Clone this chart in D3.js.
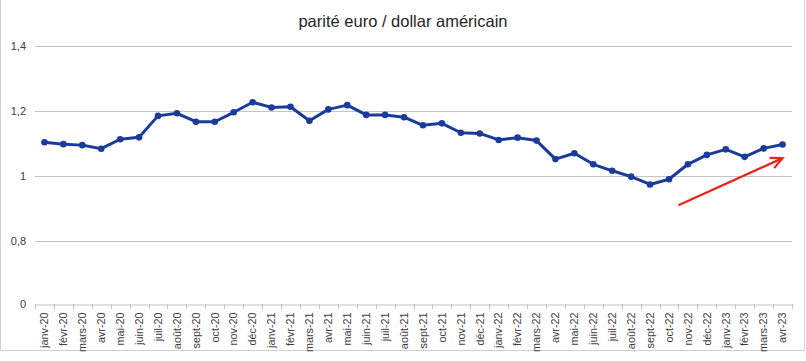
<!DOCTYPE html>
<html>
<head>
<meta charset="utf-8">
<script src="https://cdn.jsdelivr.net/npm/d3@7"></script>
<style>
  body { margin: 0; background: #fff; }
  svg { display: block; font-family: "Liberation Sans", Arial, sans-serif; }
</style>
</head>
<body>
<svg id="chart" width="806" height="361"></svg>
<script>
const title = "parité euro / dollar américain";
const months = ["janv-20","févr-20","mars-20","avr-20","mai-20","juin-20","juil-20","août-20","sept-20","oct-20","nov-20","déc-20",
  "janv-21","févr-21","mars-21","avr-21","mai-21","juin-21","juil-21","août-21","sept-21","oct-21","nov-21","déc-21",
  "janv-22","févr-22","mars-22","avr-22","mai-22","juin-22","juil-22","août-22","sept-22","oct-22","nov-22","déc-22",
  "janv-23","févr-23","mars-23","avr-23"];
const parity = [1.104,1.098,1.095,1.084,1.113,1.119,1.185,1.193,1.167,1.167,1.196,1.227,
  1.211,1.213,1.170,1.205,1.218,1.188,1.188,1.181,1.156,1.162,1.133,1.131,
  1.111,1.118,1.109,1.052,1.070,1.036,1.016,0.998,0.974,0.990,1.036,1.065,
  1.082,1.059,1.085,1.097];
const yTicks = [0, 0.8, 1, 1.2, 1.4];
const yTickLabels = ["0", "0,8", "1", "1,2", "1,4"];
// trend arrow annotation: [month index, value]
const arrowStart = [33.5, 0.91];
const arrowEnd = [39, 1.055];

const svg = d3.select("#chart");
const plot = { left: 35, right: 792, top: 46, bottom: 304 };

// frame
svg.append("path")
  .attr("d", `M0.5,-1 V350.5 H804.5 V-1`)
  .attr("fill", "none").attr("stroke", "#d0d0d0").attr("stroke-width", 1);

const x = d3.scaleBand().domain(months).range([plot.left, plot.right]).paddingInner(0).paddingOuter(0);
const xc = i => x(months[0]) + x.step() * (i + 0.5);
// broken value axis: 0 shown one step below 0,8
const y = d3.scaleLinear().domain([0, 0.8, 1.4]).range([plot.bottom, 241, plot.top]);

// gridlines
svg.append("g").selectAll("line").data(yTicks.filter(d => d > 0)).join("line")
  .attr("x1", plot.left).attr("x2", plot.right)
  .attr("y1", d => Math.round(y(d)) + 0.5).attr("y2", d => Math.round(y(d)) + 0.5)
  .attr("stroke", "#c4c4c4").attr("stroke-width", 1);

// y labels
svg.append("g").selectAll("text").data(yTicks).join("text")
  .attr("x", 26).attr("y", d => y(d)).attr("dy", "0.35em")
  .attr("text-anchor", "end").attr("font-size", 11).attr("fill", "#404040")
  .text((d, i) => yTickLabels[i]);

// x axis
const xAxis = d3.axisBottom(x).tickSize(0).tickSizeOuter(0);
const gx = svg.append("g").attr("transform", `translate(0,${plot.bottom + 0.5})`).call(xAxis);
gx.select(".domain").attr("stroke", "#c4c4c4");
gx.selectAll(".tick text")
  .attr("font-family", "'Liberation Sans', Arial, sans-serif")
  .attr("font-size", 10.8).attr("fill", "#404040")
  .attr("transform", "rotate(-90)")
  .attr("text-anchor", "end")
  .attr("x", -8).attr("y", 0).attr("dy", "0.35em");
// boundary ticks
svg.append("g").selectAll("line").data(d3.range(months.length + 1)).join("line")
  .attr("x1", i => Math.round(plot.left + i * x.step()) + 0.5)
  .attr("x2", i => Math.round(plot.left + i * x.step()) + 0.5)
  .attr("y1", plot.bottom).attr("y2", plot.bottom + 5)
  .attr("stroke", "#c4c4c4");

// title
svg.append("text").attr("x", 403).attr("y", 21).attr("dy", "0.35em")
  .attr("text-anchor", "middle").attr("font-size", 16.5).attr("fill", "#262626")
  .text(title);

// line
const color = "#1a3b9c";
svg.append("path").datum(parity)
  .attr("fill", "none").attr("stroke", color).attr("stroke-width", 3).attr("stroke-linejoin", "round")
  .attr("d", d3.line().x((d, i) => xc(i)).y(d => y(d)));
svg.append("g").selectAll("circle").data(parity).join("circle")
  .attr("cx", (d, i) => xc(i)).attr("cy", d => y(d)).attr("r", 3.3).attr("fill", color);

// arrow
const ax1 = xc(arrowStart[0]), ay1 = y(arrowStart[1]);
const ax2 = xc(arrowEnd[0]), ay2 = y(arrowEnd[1]);
const ang = Math.atan2(ay2 - ay1, ax2 - ax1);
const hl = 13, ha = 0.45;
svg.append("line").attr("x1", ax1).attr("y1", ay1).attr("x2", ax2).attr("y2", ay2)
  .attr("stroke", "#e8231b").attr("stroke-width", 2.2);
svg.append("path")
  .attr("d", `M${ax2 - hl * Math.cos(ang - ha)},${ay2 - hl * Math.sin(ang - ha)} L${ax2},${ay2} L${ax2 - hl * Math.cos(ang + ha)},${ay2 - hl * Math.sin(ang + ha)}`)
  .attr("fill", "none").attr("stroke", "#e8231b").attr("stroke-width", 2.2).attr("stroke-linejoin", "miter");
</script>
</body>
</html>
